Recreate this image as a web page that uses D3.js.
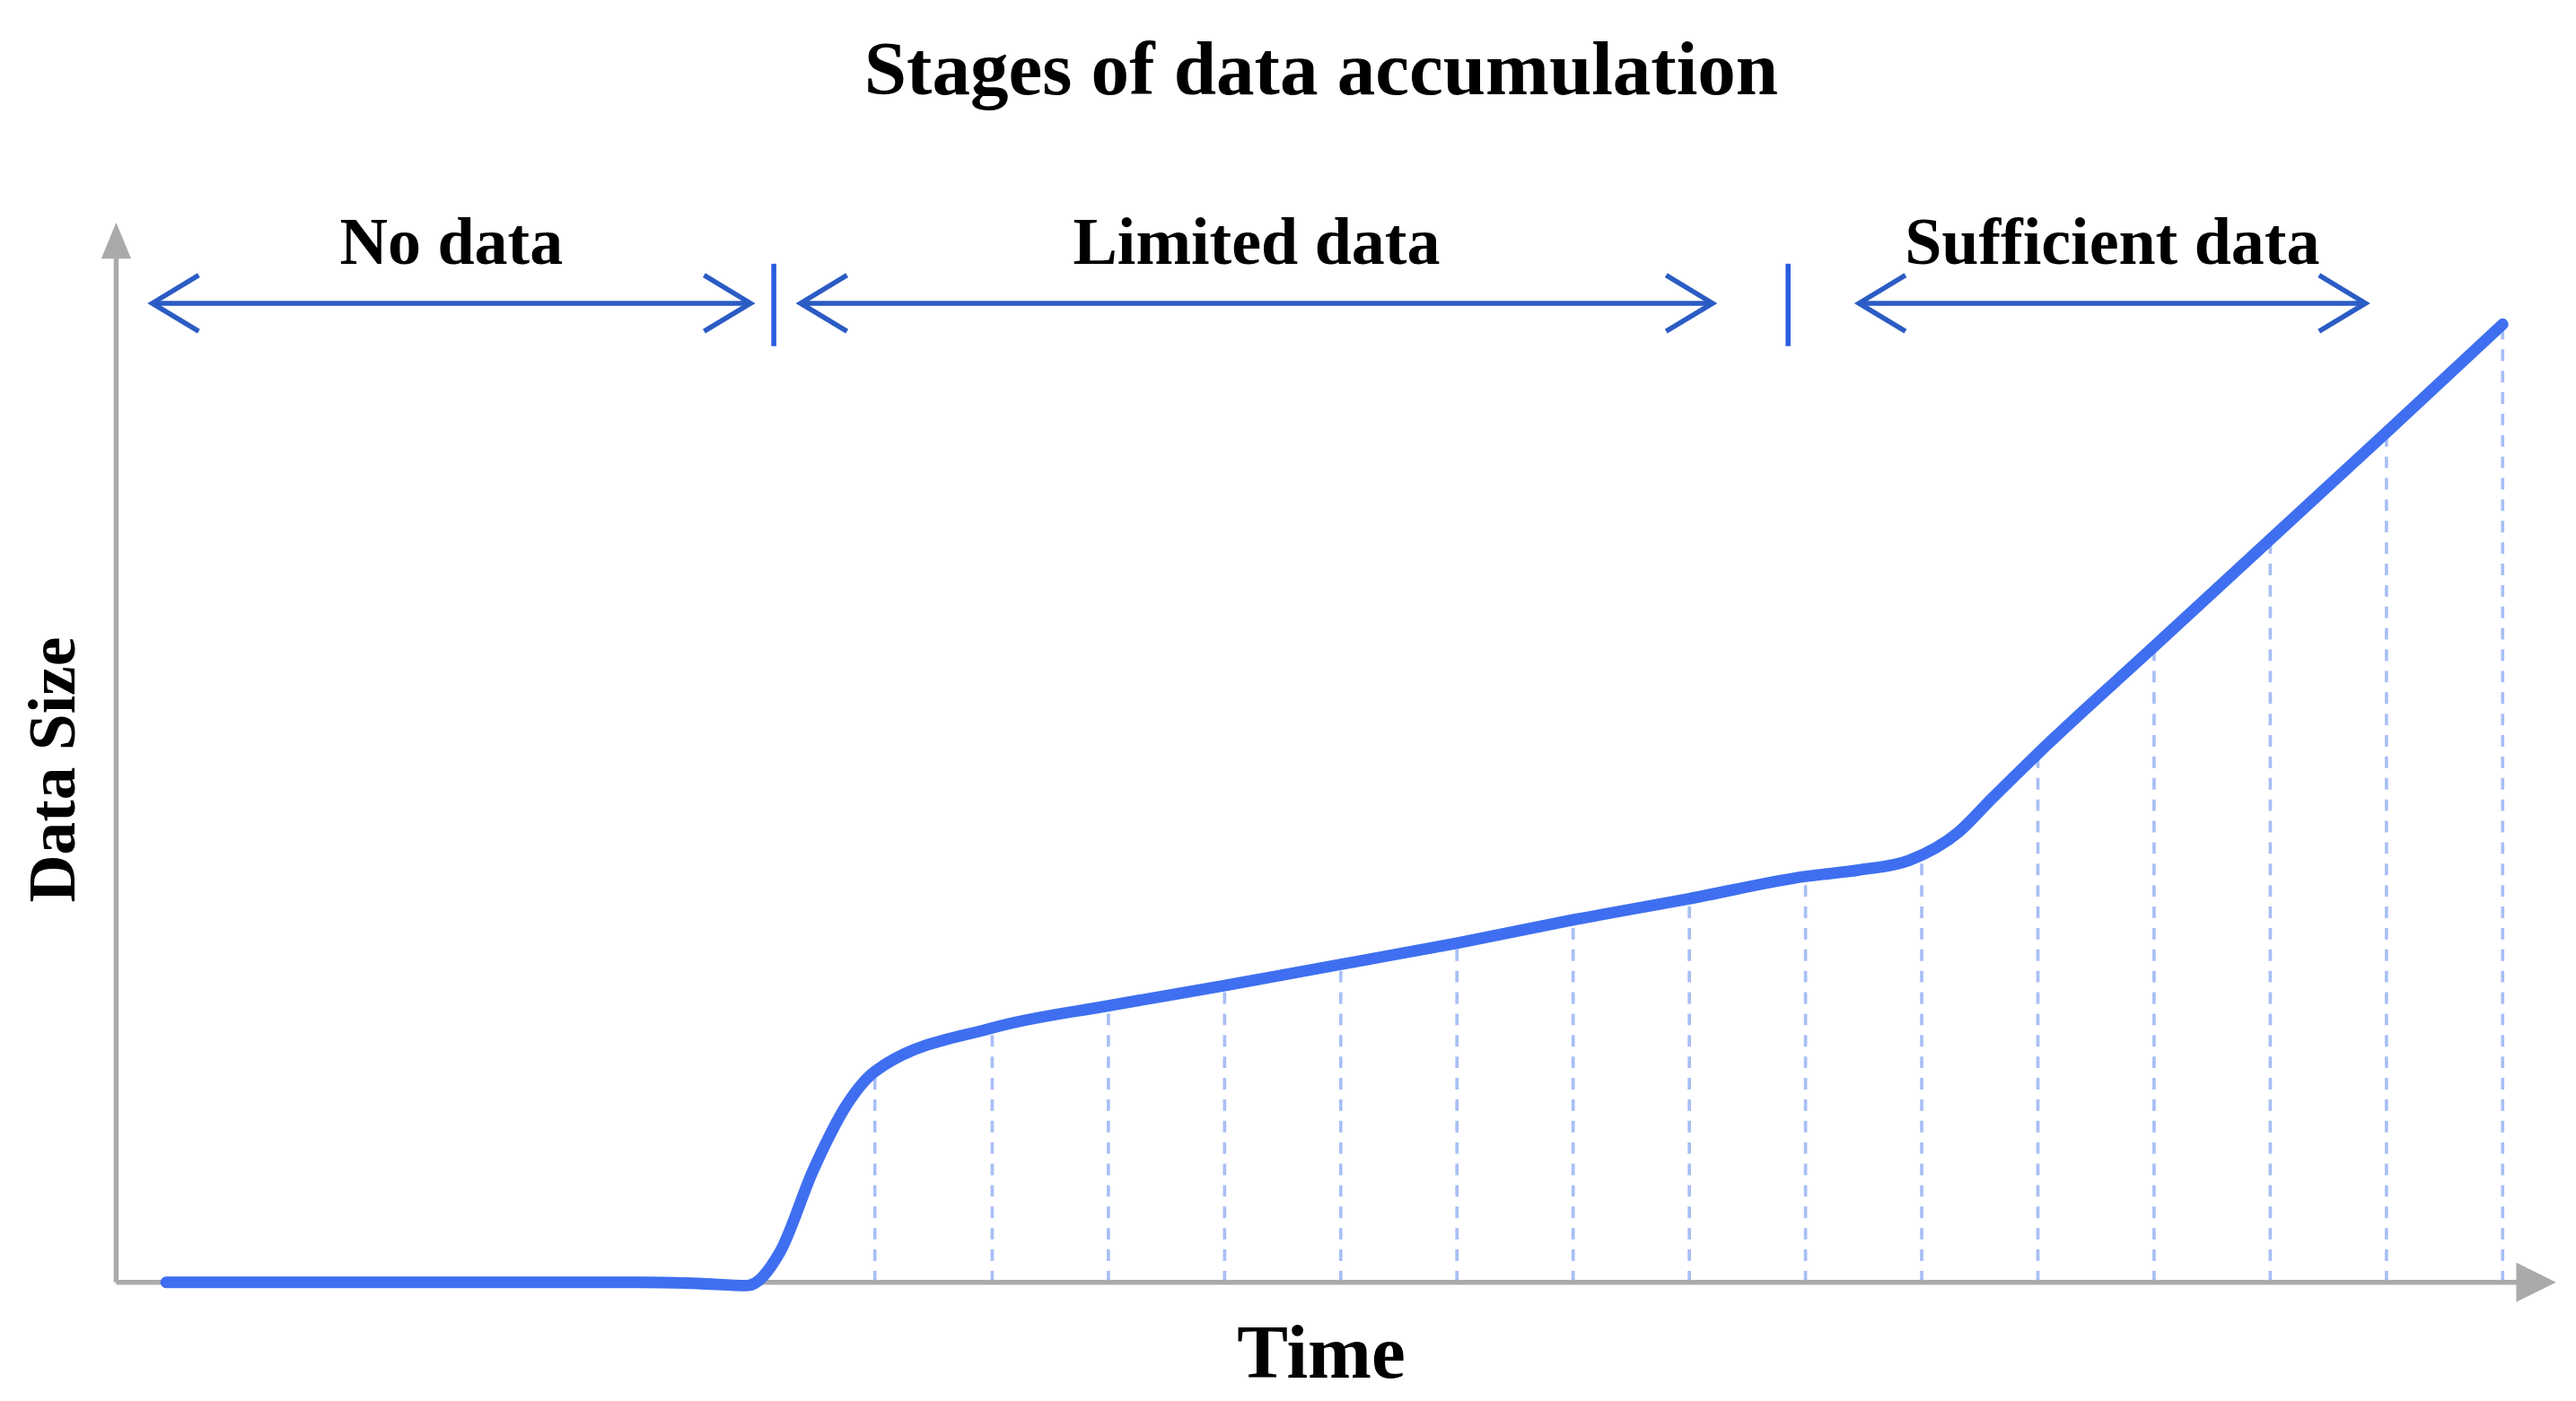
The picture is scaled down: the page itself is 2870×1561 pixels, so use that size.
<!DOCTYPE html>
<html><head><meta charset="utf-8">
<script src="https://cdn.jsdelivr.net/npm/d3@7"></script>
<style>html,body{margin:0;background:#fff}</style></head>
<body><svg id="c"></svg>
<script>
// Data (time units, data-size units)
const curveT = [0.43,4.5,5.0,5.43,5.71,6.0,6.29,6.53,7.54,8.54,9.54,10.54,11.54,12.54,13.54,14.54,15.0,15.43,15.86,16.14,16.54,17.54,18.54,19.54,20.54];
const curveV = [0,0,-0.1,-0.3,2.8,10.6,16.8,19.9,24,26.1,28,30,32,34.2,36.2,38.3,38.9,39.8,42.5,45.6,49.9,60,70.1,80.2,90.4];
const dropT = [6.53,7.54,8.54,9.54,10.54,11.54,12.54,13.54,14.54,15.54,16.54,17.54,18.54,19.54,20.54];
const stageLabels = ["No data","Limited data","Sufficient data"];
const stageStart = [0.31,5.89,15.0];
const stageEnd = [5.46,13.74,19.36];
const dividerT = [5.66,14.39];

const W=1552,H=850;
const svg=d3.select("#c").attr("width",2870).attr("height",1561).attr("viewBox",`0 0 ${W} ${H}`).attr("preserveAspectRatio","none");
const x=d3.scaleLinear().domain([0,21]).range([70,1540]);
const y=d3.scaleLinear().domain([0,100]).range([778,135]);
const ser="Liberation Serif, Times New Roman, serif";
const blue="#2b5cc4";

// dashed drop lines
const curveY=t=>{const i=d3.bisectLeft(curveT,t);if(curveT[i]===t)return curveV[i];const a=i-1;const f=(t-curveT[a])/(curveT[i]-curveT[a]);return curveV[a]+f*(curveV[i]-curveV[a]);};
svg.selectAll(".drop").data(dropT).enter().append("line")
 .attr("x1",d=>x(d)).attr("x2",d=>x(d)).attr("y1",y(0)).attr("y2",d=>y(curveY(d)))
 .attr("stroke","#a8bff5").attr("stroke-width",2).attr("stroke-dasharray","7,6");

// axes
svg.append("line").attr("x1",x(0)).attr("x2",x(21)-14).attr("y1",y(0)).attr("y2",y(0)).attr("stroke","#aaa").attr("stroke-width",3);
svg.append("line").attr("x1",x(0)).attr("x2",x(0)).attr("y1",y(0)).attr("y2",y(100)+14).attr("stroke","#aaa").attr("stroke-width",3);
svg.append("path").attr("d",`M${x(21)},${y(0)} L${x(21)-24},${y(0)-12} L${x(21)-24},${y(0)+12}Z`).attr("fill","#aaa");
svg.append("path").attr("d",`M${x(0)},${y(100)} L${x(0)-9},${y(100)+22} L${x(0)+9},${y(100)+22}Z`).attr("fill","#aaa");

// curve
svg.append("path").datum(curveT.map((t,i)=>[t,curveV[i]]))
 .attr("d",d3.line().x(d=>x(d[0])).y(d=>y(d[1])).curve(d3.curveMonotoneX))
 .attr("fill","none").attr("stroke","#3f6ff0").attr("stroke-width",7).attr("stroke-linecap","round");

// stage arrows
const ay=184;
stageLabels.forEach((lab,i)=>{
  const a=x(stageStart[i]),b=x(stageEnd[i]);
  svg.append("line").attr("x1",a).attr("x2",b).attr("y1",ay).attr("y2",ay).attr("stroke",blue).attr("stroke-width",3);
  svg.append("path").attr("d",`M${a+28},${ay-17} L${a},${ay} L${a+28},${ay+17}`).attr("fill","none").attr("stroke",blue).attr("stroke-width",3);
  svg.append("path").attr("d",`M${b-28},${ay-17} L${b},${ay} L${b-28},${ay+17}`).attr("fill","none").attr("stroke",blue).attr("stroke-width",3);
  svg.append("text").attr("x",(a+b)/2).attr("y",160).attr("text-anchor","middle").attr("font-family",ser).attr("font-weight","bold").attr("font-size",40).text(lab);
});
svg.selectAll(".div").data(dividerT).enter().append("line")
 .attr("x1",d=>x(d)).attr("x2",d=>x(d)).attr("y1",160).attr("y2",210).attr("stroke","#2a5ce0").attr("stroke-width",3);

// titles
svg.append("text").attr("x",796).attr("y",57).attr("text-anchor","middle").attr("font-family",ser).attr("font-weight","bold").attr("font-size",46).text("Stages of data accumulation");
svg.append("text").attr("x",796).attr("y",836).attr("text-anchor","middle").attr("font-family",ser).attr("font-weight","bold").attr("font-size",46).text("Time");
svg.append("text").attr("transform","translate(45,467) rotate(-90)").attr("text-anchor","middle").attr("font-family",ser).attr("font-weight","bold").attr("font-size",40).text("Data Size");
</script></body></html>
